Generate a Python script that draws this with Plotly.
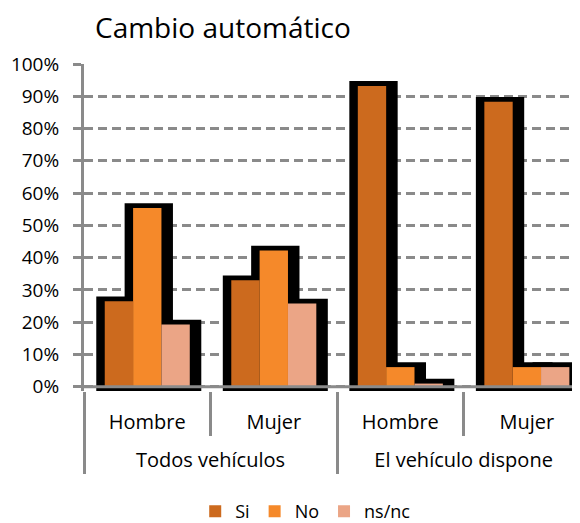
import plotly.graph_objects as go

# Data (percent)
groups = ["Todos vehículos", "Todos vehículos", "El vehículo dispone", "El vehículo dispone"]
sexes = ["Hombre", "Mujer", "Hombre", "Mujer"]
si = [26.5, 33.0, 93.2, 88.3]
no = [55.4, 42.2, 6.1, 6.1]
nsnc = [19.3, 25.8, 1.0, 6.1]

series = [
    ("Si", si, "#cc6a1e"),
    ("No", no, "#f5892a"),
    ("ns/nc", nsnc, "#eba586"),
]

BAR_W = 0.224
OFFSETS = [-0.336, -0.112, 0.112]
SHADOW_PAD_L = 0.067
SHADOW_W = BAR_W + 0.158
SHADOW_TOP = 1.5
SHADOW_BOTTOM = -1.3
GRID = "#8a8a8a"
FONT = "Open Sans"

# page is drawn with an 8px body margin, so the figure is 8px smaller than the window
W, H = 572, 515

# the trailing blank line pushes the group labels further down, as in the original
x = [groups, [s + "<br> " for s in sexes]]
fig = go.Figure()

# black drop-shadow behind each bar
for (name, vals, color), off in zip(series, OFFSETS):
    fig.add_trace(
        go.Bar(
            x=x,
            y=[v + SHADOW_TOP - SHADOW_BOTTOM for v in vals],
            base=SHADOW_BOTTOM,
            offset=off - SHADOW_PAD_L,
            width=SHADOW_W,
            marker={"color": "#000000", "line": {"width": 0}},
            showlegend=False,
            hoverinfo="skip",
        )
    )

for (name, vals, color), off in zip(series, OFFSETS):
    fig.add_trace(
        go.Bar(
            x=x,
            y=vals,
            name=name,
            offset=off,
            width=BAR_W,
            marker={"color": color, "line": {"width": 0}},
        )
    )

fig.add_hline(y=0, line={"color": GRID, "width": 3}, layer="above")

fig.update_layout(
    width=W,
    height=H,
    barmode="overlay",
    plot_bgcolor="white",
    paper_bgcolor="white",
    margin={"l": 76, "r": 0, "t": 56, "b": 132, "autoexpand": False},
    font={"family": FONT, "color": "#000000"},
    title={
        "text": "Cambio automático",
        "x": 87 / W,
        "xanchor": "left",
        "y": 1 - 20 / H,
        "yanchor": "middle",
        "font": {"size": 28, "family": FONT, "color": "#000000"},
    },
    legend={
        "orientation": "h",
        "x": 0.447,
        "xanchor": "center",
        "y": -0.369,
        "yanchor": "middle",
        "font": {"size": 18},
        "itemwidth": 30,
        "traceorder": "normal",
    },
    xaxis={
        "type": "multicategory",
        "range": [-0.5, 3.42],
        "automargin": False,
        "showline": False,
        "showgrid": False,
        "ticks": "outside",
        "tickson": "boundaries",
        "ticklen": 44,
        "tickwidth": 3,
        "tickcolor": GRID,
        "ticklabelstandoff": 17,
        "showdividers": True,
        "dividercolor": GRID,
        "dividerwidth": 3,
        "tickfont": {"size": 20},
    },
    yaxis={
        "range": [SHADOW_BOTTOM, 100],
        "automargin": False,
        "tickmode": "linear",
        "tick0": 0,
        "dtick": 10,
        "ticksuffix": "%",
        "showline": True,
        "linecolor": GRID,
        "linewidth": 3,
        "ticks": "outside",
        "ticklen": 8,
        "tickwidth": 3,
        "tickcolor": GRID,
        "ticklabelstandoff": 10,
        "showgrid": True,
        "gridcolor": GRID,
        "gridwidth": 3,
        "griddash": "9px,5px",
        "zeroline": False,
        "tickfont": {"size": 19},
    },
)

fig.write_html("out.html")
